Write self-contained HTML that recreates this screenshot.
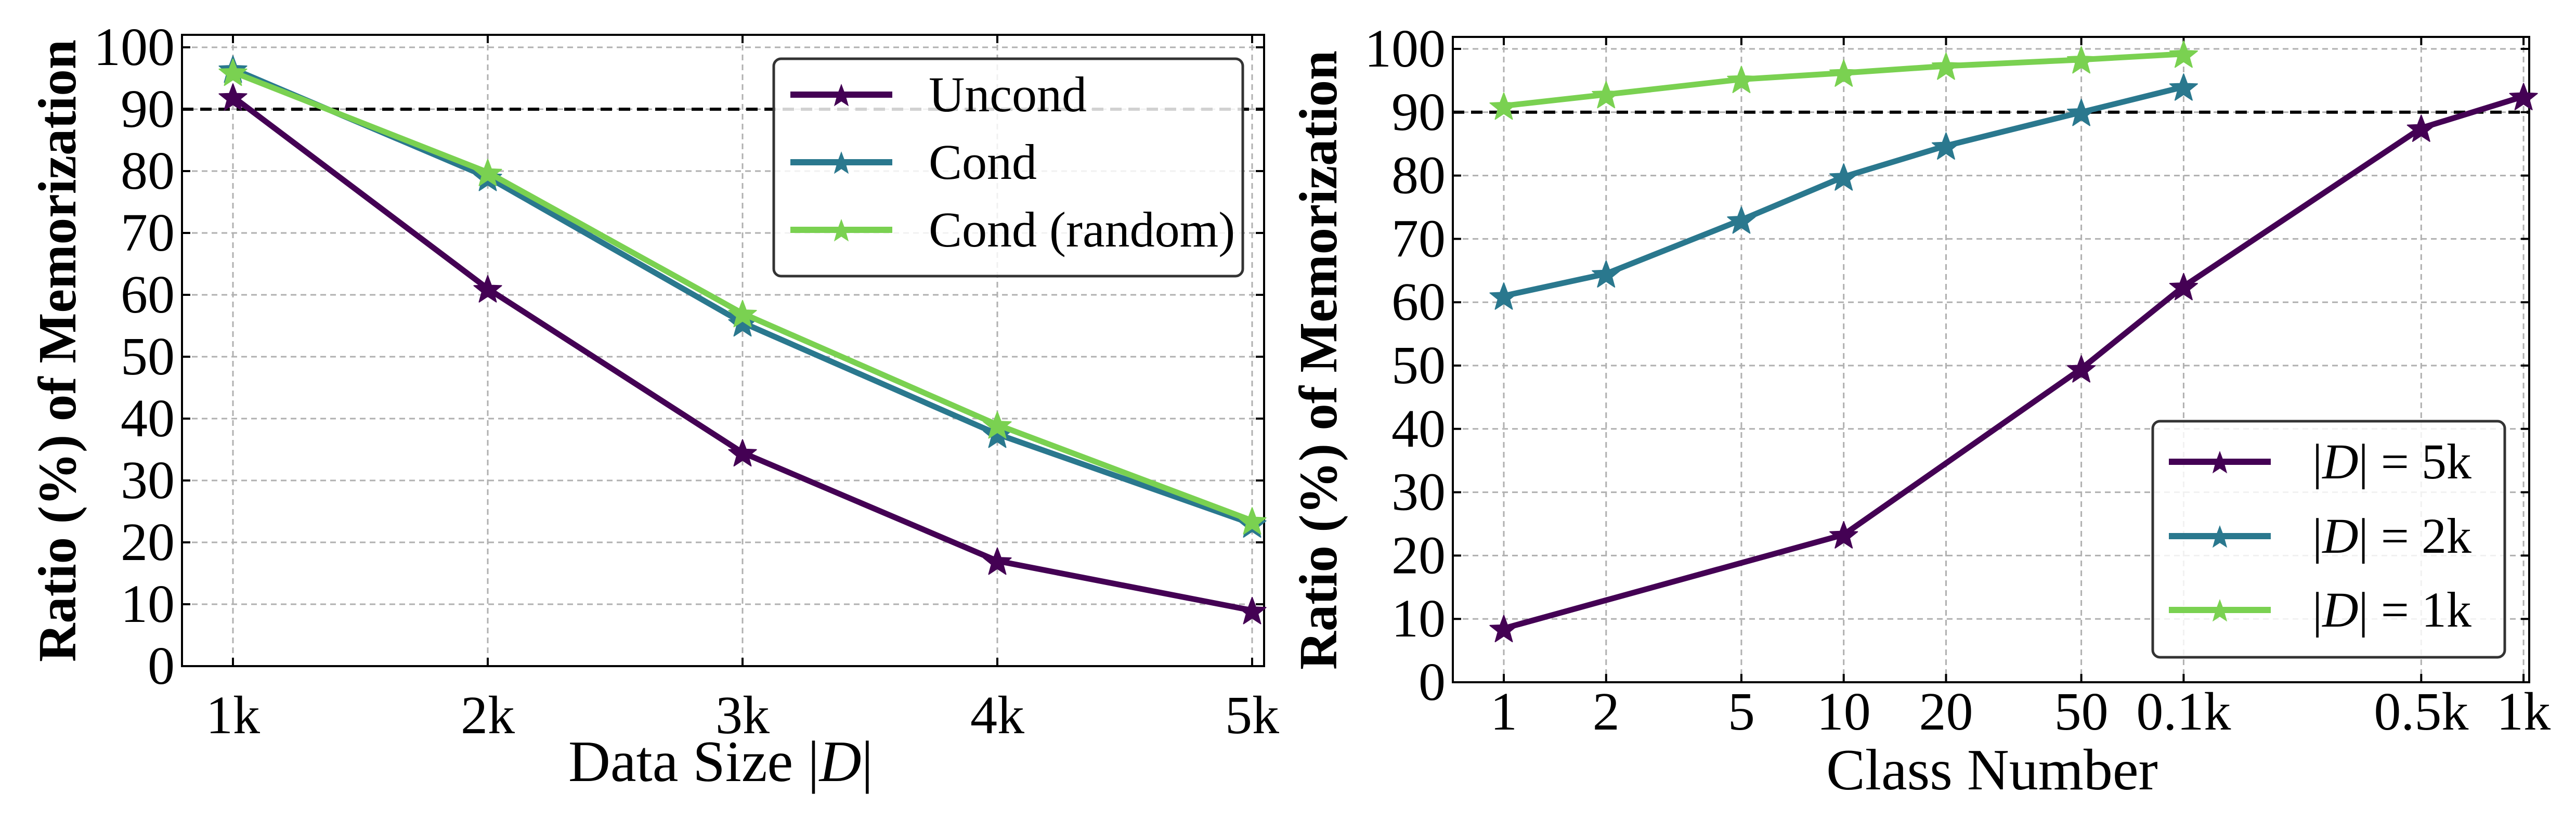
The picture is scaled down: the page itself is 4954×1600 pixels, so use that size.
<!DOCTYPE html>
<html><head><meta charset="utf-8"><style>
html,body{margin:0;padding:0;background:#fff;}
svg, svg text{font-family:"Liberation Serif","DejaVu Serif","Noto Serif CJK SC",serif !important;}
</style></head><body>
<svg id="chart" width="4954" height="1595" viewBox="0 0 4954 1595" xmlns="http://www.w3.org/2000/svg">
<rect x="0" y="0" width="4954" height="1595" fill="#fff"/>
<g id="left"></g>
<g id="right"></g>
</svg>
<script>
// Left chart data
const leftCategories = [1, 2, 3, 4, 5];
const leftTickLabels = ["1k", "2k", "3k", "4k", "5k"];
const uncondValues = [92, 61, 34.5, 17, 9];
const condValues = [96.5, 79, 55.5, 37.5, 23];
const condRandomValues = [96, 79.8, 57, 39, 23.5];
// Right chart data
const rightTicks = [1, 2, 5, 10, 20, 50, 100, 500, 1000];
const rightTickLabels = ["1", "2", "5", "10", "20", "50", "0.1k", "0.5k", "1k"];
const d5kClasses = [1, 10, 50, 100, 500, 1000];
const d5kValues = [8.5, 23.3, 49.5, 62.5, 87.5, 92.5];
const d2kClasses = [1, 2, 5, 10, 20, 50, 100];
const d2kValues = [61, 64.5, 73, 79.8, 84.7, 90, 94];
const d1kClasses = [1, 2, 5, 10, 20, 50, 100];
const d1kValues = [91, 92.8, 95.2, 96.2, 97.3, 98.3, 99.2];
const yTicks = [0, 10, 20, 30, 40, 50, 60, 70, 80, 90, 100];
const threshold = 90;

const NS = "http://www.w3.org/2000/svg";
const FONT = '"Liberation Serif", "DejaVu Serif", "Noto Serif CJK SC", serif';
const C = {p: "#440154", t: "#2a788e", g: "#7ad151"};
function mk(parent, tag, attrs, text) {
  const e = document.createElementNS(NS, tag);
  for (const k in attrs) e.setAttribute(k, attrs[k]);
  if (tag === "text") { e.setAttribute("font-family", FONT); e.style.fontFamily = FONT; }
  if (text !== undefined) e.textContent = text;
  parent.appendChild(e);
  return e;
}
function starPath(cx, cy, R) {
  const r = R * 0.42; let d = "";
  for (let i = 0; i < 10; i++) {
    const a = -Math.PI / 2 + i * Math.PI / 5;
    const rr = i % 2 ? r : R;
    d += (i ? "L" : "M") + (cx + rr * Math.cos(a)).toFixed(1) + " " + (cy + rr * Math.sin(a)).toFixed(1);
  }
  return d + "Z";
}

function drawAxes(g, box, xScale, yScale, xTicks, xLabels, yLabelX, yLabelSpan, xTitle, xTitleX, xTitleY, tickBase) {
  yTicks.forEach(v => {
    const l = mk(g, "line", {x1: box.l, x2: box.r, y1: yScale(v), y2: yScale(v), stroke: "#b0b0b0", "stroke-width": 3, "stroke-dasharray": "11 8"});
    
    
  });
  xTicks.forEach(v => {
    const l = mk(g, "line", {x1: xScale(v), x2: xScale(v), y1: box.t, y2: box.b, stroke: "#b0b0b0", "stroke-width": 3, "stroke-dasharray": "11 8"});
    
    
  });
  const th = mk(g, "line", {x1: box.l, x2: box.r, y1: yScale(threshold), y2: yScale(threshold), stroke: "#000", "stroke-width": 6, "stroke-dasharray": "22 13"});
  
  
  yTicks.forEach(v => {
    const y = yScale(v);
    const t = mk(g, "path", {d: `M${box.l} ${y}h16M${box.r} ${y}h-16`, stroke: "#000", "stroke-width": 4});
    
    
    const tl = mk(g, "text", {x: box.l - 14, y: y + 34, "text-anchor": "end", "font-size": 104}, String(v));
    
    
  });
  xTicks.forEach((v, i) => {
    const x = xScale(v);
    const t = mk(g, "path", {d: `M${x} ${box.b}v-16M${x} ${box.t}v16`, stroke: "#000", "stroke-width": 4});
    
    
    const tl = mk(g, "text", {x: x, y: tickBase, "text-anchor": "middle", "font-size": 104}, xLabels[i]);
    
    
  });
  const fr = mk(g, "rect", {x: box.l, y: box.t, width: box.r - box.l, height: box.b - box.t, fill: "none", stroke: "#000", "stroke-width": 4});
  
  
  const yl = mk(g, "text", {x: 0, y: 0, transform: `translate(${yLabelX},${(yLabelSpan[0] + yLabelSpan[1]) / 2}) rotate(-90)`, "text-anchor": "middle", "font-size": 104, "font-weight": "bold", textLength: yLabelSpan[1] - yLabelSpan[0], lengthAdjust: "spacingAndGlyphs"}, "Ratio (%) of Memorization");
  
  
  const xt = mk(g, "text", {x: xTitleX, y: xTitleY, "text-anchor": "middle", "font-size": 112});
  
  
  xt.innerHTML = xTitle;
}

function drawSeries(g, xs, ys, xScale, yScale, color, name) {
  const pts = xs.map((x, i) => xScale(x).toFixed(1) + "," + yScale(ys[i]).toFixed(1)).join(" ");
  const pl = mk(g, "polyline", {points: pts, fill: "none", stroke: color, "stroke-width": 11, "stroke-linejoin": "round"});
  
  
  xs.forEach((x, i) => {
    const s = mk(g, "path", {d: starPath(xScale(x), yScale(ys[i]) + 3, 28), fill: color, stroke: color, "stroke-width": 2, "stroke-linejoin": "round"});
    
    
  });
}

function drawLegend(g, box, entries, lineX, textX, ys) {
  const r = mk(g, "rect", {x: box.x, y: box.y, width: box.w, height: box.h, rx: 14, fill: "rgba(255,255,255,0.82)", stroke: "#333", "stroke-width": 5});
  
  
  entries.forEach((e, i) => {
    const y = ys[i];
    const gg = mk(g, "g", {});
    
    
    mk(gg, "line", {x1: lineX[0], x2: lineX[1], y1: y, y2: y, stroke: e.c, "stroke-width": 12});
    mk(gg, "path", {d: starPath((lineX[0] + lineX[1]) / 2, y + 3, 24), fill: e.c});
    const t = mk(gg, "text", {x: textX, y: y + 32, "font-size": 96});
    t.innerHTML = e.label;
  });
}

// LEFT
(function () {
  const g = document.getElementById("left");
  const box = {l: 350, r: 2431, t: 67, b: 1281};
  const xScale = v => 448 + (v - 1) * 490;
  const yScale = v => 1281 - v * 11.9;
  drawAxes(g, box, xScale, yScale, leftCategories, leftTickLabels, 145, [76, 1273],
    'Data Size |<tspan font-style="italic">D</tspan>|', 1386, 1502, 1410);
  drawSeries(g, leftCategories, uncondValues, xScale, yScale, C.p, "uncond");
  drawSeries(g, leftCategories, condValues, xScale, yScale, C.t, "cond");
  drawSeries(g, leftCategories, condRandomValues, xScale, yScale, C.g, "cond-random");
  drawLegend(g, {x: 1488, y: 113, w: 902, h: 418},
    [{c: C.p, label: "Uncond"}, {c: C.t, label: "Cond"}, {c: C.g, label: "Cond (random)"}],
    [1520, 1716], 1786, [182, 312, 442]);
})();

// RIGHT
(function () {
  const g = document.getElementById("right");
  const box = {l: 2794, r: 4864, t: 71, b: 1312};
  const xScale = v => 2892 + Math.log10(v) * 653.7;
  const yScale = v => 1312 - v * 12.18;
  drawAxes(g, box, xScale, yScale, rightTicks, rightTickLabels, 2570, [97, 1288],
    'Class Number', 3831, 1518, 1403);
  drawSeries(g, d5kClasses, d5kValues, xScale, yScale, C.p, "d5k");
  drawSeries(g, d2kClasses, d2kValues, xScale, yScale, C.t, "d2k");
  drawSeries(g, d1kClasses, d1kValues, xScale, yScale, C.g, "d1k");
  const lab = k => '|<tspan font-style="italic">D</tspan>| = ' + k;
  drawLegend(g, {x: 4140, y: 810, w: 677, h: 454},
    [{c: C.p, label: lab("5k")}, {c: C.t, label: lab("2k")}, {c: C.g, label: lab("1k")}],
    [4171, 4367], 4447, [888, 1031, 1173]);
})();
</script>
</body></html>
